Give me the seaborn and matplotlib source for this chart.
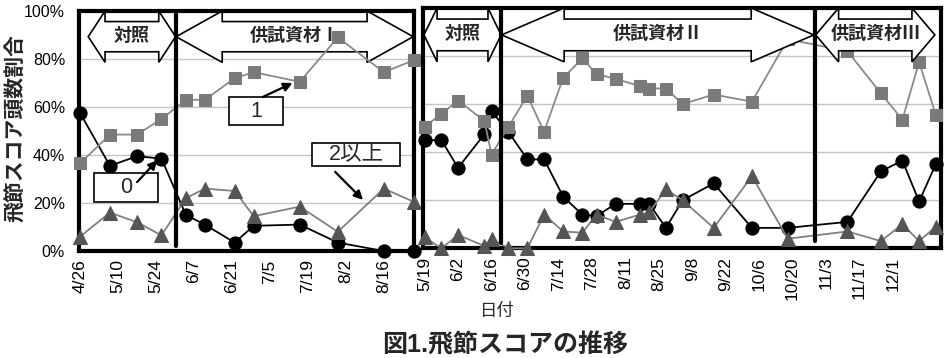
import pandas as pd
import matplotlib
matplotlib.use("Agg")
import matplotlib.pyplot as plt
import matplotlib.dates as mdates
from matplotlib.patches import Polygon, Rectangle
import seaborn as sns

# ---- data ----
# 1st period (left chart)
dates_1 = ["4/26", "5/7", "5/17", "5/26", "6/4", "6/11", "6/22", "6/29", "7/16", "7/30", "8/16", "8/27"]
score0_1 = [57.5, 35.5, 39.5, 38.5, 15, 11, 3.5, 10.5, 11, 3.5, 0, 0]
score1_1 = [36.5, 48.5, 48.5, 55, 63, 63, 72, 74.5, 70.5, 89, 74.5, 79.5]
score2_1 = [6, 16, 12, 6.5, 22, 26, 25, 14.5, 18.5, 8, 26, 20.5]
ticks_1 = ["4/26", "5/10", "5/24", "6/7", "6/21", "7/5", "7/19", "8/2", "8/16"]

# 2nd period (right chart)
dates_2 = ["5/19", "5/26", "6/2", "6/13", "6/16", "6/23", "7/1", "7/8", "7/16", "7/24", "7/30", "8/7",
           "8/17", "8/21", "8/28", "9/4", "9/17", "10/3", "10/18", "11/12", "11/26", "12/5", "12/12", "12/19"]
score0_2 = [45, 45, 33.5, 47.5, 57, 48.5, 37, 37, 21.5, 14, 13.5, 18.5,
            18.5, 18.5, 8.5, 20, 27, 8.5, 8.5, 11, 32, 36.5, 19.5, 35]
score1_2 = [50.5, 56, 61.5, 53, 39, 50.5, 63.5, 48.5, 71, 79, 72.5, 70.5,
            67.5, 66.5, 66.5, 60, 64, 61, 87, 82, 64.5, 53.5, 77.5, 55.5]
score2_2 = [4.5, 0, 5.5, 1, 4, 0, 0, 14, 7, 6.5, 14, 11,
            14, 15, 24.5, 20, 8.5, 30, 4, 7, 3, 10, 3, 9]
ticks_2 = ["5/19", "6/2", "6/16", "6/30", "7/14", "7/28", "8/11", "8/25", "9/8", "9/22",
           "10/6", "10/20", "11/3", "11/17", "12/1"]

YEAR_1, YEAR_2 = 2012, 2013


def to_dt(labels, year):
    return pd.to_datetime([f"{year}/{s}" for s in labels], format="%Y/%m/%d")


sns.set_theme(style="white")
plt.rcParams["font.family"] = ["Liberation Sans", "Noto Sans CJK JP", "DejaVu Sans"]
JP = ["Noto Sans CJK JP", "DejaVu Sans"]

fig = plt.figure(figsize=(9.45, 3.58), dpi=100)
ax1 = fig.add_axes([79 / 945, 107 / 358, 335 / 945, 240 / 358])
ax2 = fig.add_axes([423 / 945, (358 - 248.3) / 358, 517.6 / 945, 240.3 / 358])


def draw_panel(ax, dates, s0, s1, s2, ticks, year, start_off, end_off):
    x = to_dt(dates, year)
    sns.lineplot(x=x, y=s0, ax=ax, color="#000000", lw=1.3, marker="o", markersize=9.5,
                 markeredgecolor="#000000", markerfacecolor="#000000", zorder=3, clip_on=False)
    sns.lineplot(x=x, y=s1, ax=ax, color="#8a8a8a", lw=1.3, marker="s", markersize=9,
                 markeredgecolor="#7a7a7a", markerfacecolor="#7a7a7a", zorder=3.2, clip_on=False)
    sns.lineplot(x=x, y=s2, ax=ax, color="#808080", lw=1.3, marker="^", markersize=10,
                 markeredgecolor="#555555", markerfacecolor="#555555", zorder=3.4, clip_on=False)
    t0 = to_dt(ticks, year)
    base = t0[0]
    ax.set_xlim(base + pd.Timedelta(days=start_off), base + pd.Timedelta(days=end_off))
    ax.set_ylim(0, 100)
    ax.set_xticks(t0)
    ax.set_xticklabels(ticks, rotation=90, fontsize=12.5)
    ax.set_yticks([0, 20, 40, 60, 80, 100])
    ax.set_xlabel("")
    ax.set_ylabel("")
    ax.yaxis.grid(True, color="#c4c4c4", lw=1)
    ax.set_axisbelow(True)
    for sp in ax.spines.values():
        sp.set_linewidth(3)
        sp.set_color("black")
    ax.tick_params(axis="x", direction="in", length=4, width=1, pad=6, colors="black")
    ax.tick_params(axis="y", length=0, pad=10, labelsize=11.5, colors="black")
    return base


base1 = draw_panel(ax1, dates_1, score0_1, score1_1, score2_1, ticks_1, YEAR_1, -0.4, 123.1)
base2 = draw_panel(ax2, dates_2, score0_2, score1_2, score2_2, ticks_2, YEAR_2, -0.7, 216)
ax1.set_yticklabels([f"{v}%" for v in [0, 20, 40, 60, 80, 100]])
ax2.set_yticklabels([])


def dn(base, days):
    return mdates.date2num(base + pd.Timedelta(days=days))


def block_arrow(ax, base, x0, x1, head, yc, hh, bh, text, z):
    a, b = dn(base, x0), dn(base, x1)
    h = dn(base, x0 + head) - a
    pts = [(a, yc), (a + h, yc + hh), (a + h, yc + bh), (b - h, yc + bh), (b - h, yc + hh),
           (b, yc), (b - h, yc - hh), (b - h, yc - bh), (a + h, yc - bh), (a + h, yc - hh)]
    ax.add_patch(Polygon(pts, closed=True, facecolor="white", edgecolor="black", lw=1.2, zorder=z))
    ax.text((a + b) / 2, yc + 0.5, text, ha="center", va="center", fontsize=13,
            fontweight="bold", family=JP, zorder=z + 0.1)


# period arrows
block_arrow(ax1, base1, 3.0, 35.2, 6.2, 89.3, 10.7, 6.3, "対照", 2.5)
block_arrow(ax1, base1, 35.4, 122.8, 17, 89.3, 10.7, 6.3, "供試資材Ⅰ", 2.5)
block_arrow(ax2, base2, -0.3, 32.0, 5.5, 88.8, 11.2, 6.6, "対照", 5)
block_arrow(ax2, base2, 32.2, 162.9, 26.2, 88.8, 11.2, 6.6, "供試資材Ⅱ", 5)
block_arrow(ax2, base2, 163.7, 213.6, 9.6, 88.8, 11.2, 6.6, "供試資材Ⅲ", 5)

# period separators
ax1.axvline(dn(base1, 35.3), ymin=0.02, ymax=1, color="black", lw=3, zorder=4)
ax2.axvline(dn(base2, 32.1), ymin=0.02, ymax=1, color="black", lw=3, zorder=6)
ax2.axvline(dn(base2, 163.3), ymin=0.03, ymax=1, color="black", lw=3, zorder=6)


# callouts
def callout(ax, base, d0, d1, y0, y1, text, tx, ty, ax_from, ay_from, ax_to, ay_to):
    x0 = dn(base, d0)
    ax.add_patch(Rectangle((x0, y0), dn(base, d1) - x0, y1 - y0, facecolor="white",
                           edgecolor="black", lw=1.2, zorder=6))
    ax.text(dn(base, tx), ty, text, ha="center", va="center", fontsize=15.5, zorder=6.5)
    ax.annotate("", xy=(dn(base, ax_to), ay_to), xytext=(dn(base, ax_from), ay_from),
                arrowprops=dict(arrowstyle="-|>", color="black", lw=1.6, mutation_scale=13,
                                shrinkA=0, shrinkB=0), zorder=7)


callout(ax1, base1, 54.9, 74.8, 52.5, 64.2, "1", 64.8, 58.3, 67.4, 64.2, 78.3, 70.0)
callout(ax1, base1, 5.2, 28.7, 20.4, 32.5, "0", 17.0, 26.5, 21.0, 28.7, 28.5, 37.8)
callout(ax1, base1, 85.5, 117.9, 35.4, 45.0, "2以上", 101.7, 40.0, 94.0, 33.0, 104.3, 21.3)

fig.text(497 / 945, 1 - 311 / 358, "日付", ha="center", va="center", fontsize=12.5)
fig.text(16 / 945, 1 - 128 / 358, "飛節スコア頭数割合", ha="center", va="center",
         rotation=90, fontsize=15, fontweight="bold")
fig.text(505 / 945, 1 - 345 / 358, "図1.飛節スコアの推移", ha="center", va="center",
         fontsize=18, fontweight="bold")

fig.savefig("out.png", dpi=100)
